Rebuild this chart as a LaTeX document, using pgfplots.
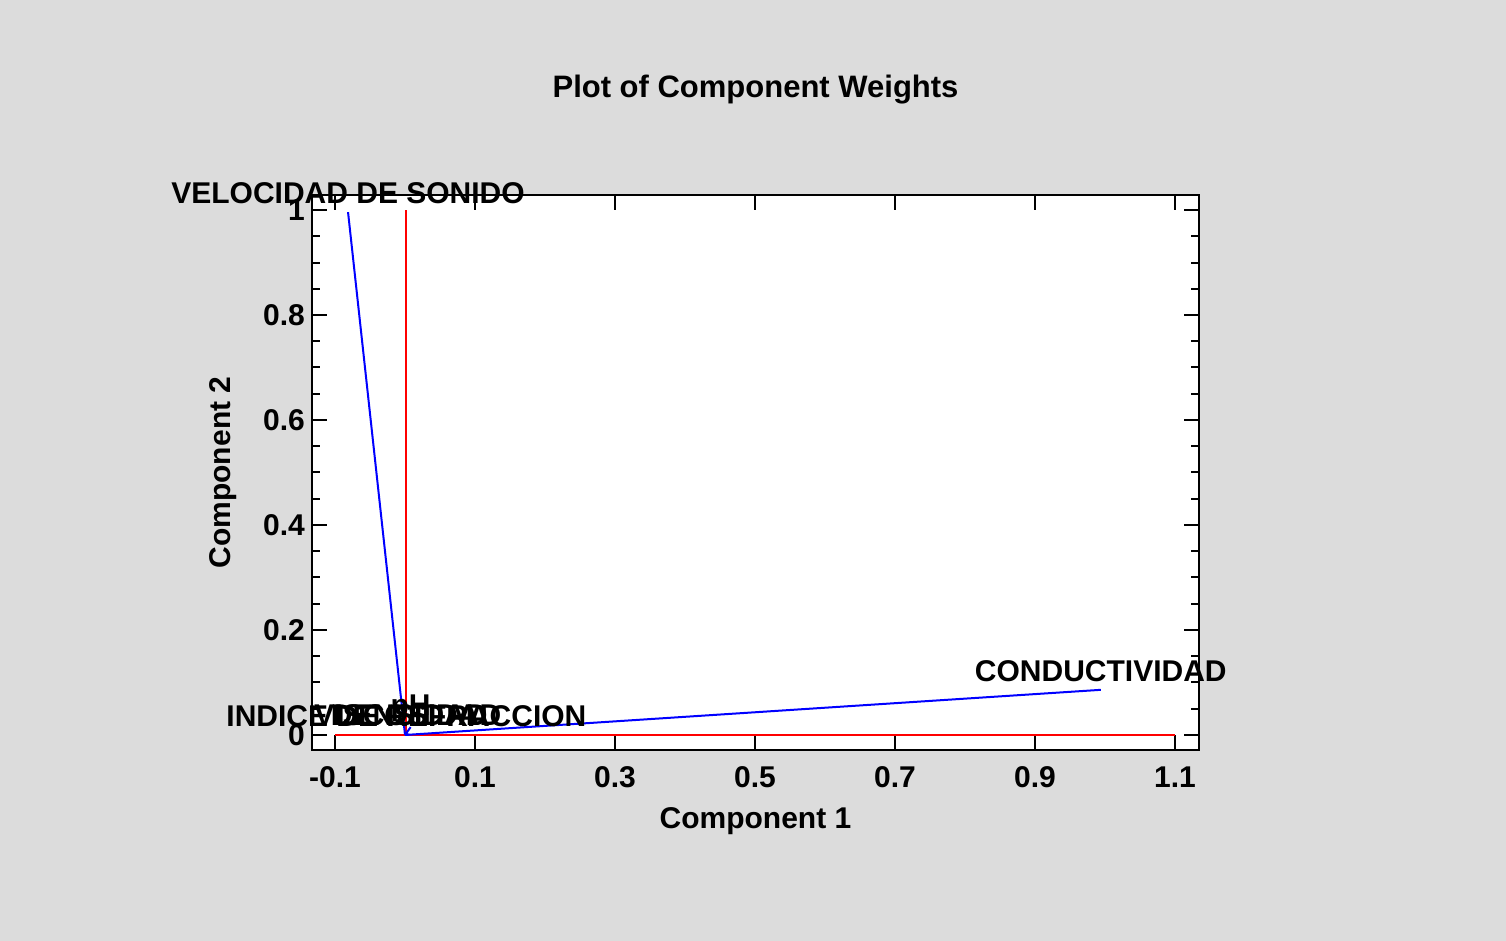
\documentclass[border=0pt]{standalone}
\usepackage{pgfplots}
\pgfplotsset{compat=1.18}
\usepackage{fontspec}
\setmainfont{Liberation Sans}
\definecolor{bg}{RGB}{220,220,220}
\begin{document}
\begin{tikzpicture}[font=\fontsize{15pt}{18pt}\selectfont\bfseries]
\fill[bg] (-156pt,-95.5pt) rectangle (597pt,375pt);
\begin{axis}[
  at={(0,0)}, anchor=south west,
  scale only axis,
  width=443.5pt, height=277.5pt,
  xmin=-0.1329, xmax=1.1343,
  ymin=-0.0286, ymax=1.0286,
  axis background/.style={fill=white},
  axis line style={line width=1.3pt},
  clip=false,
  xtick={-0.1,0.1,0.3,0.5,0.7,0.9,1.1},
  xticklabels={-0.1,0.1,0.3,0.5,0.7,0.9,1.1},
  ytick={0,0.2,0.4,0.6,0.8,1},
  yticklabels={0,0.2,0.4,0.6,0.8,1},
  minor y tick num=3,
  tick align=inside,
  major tick length=7.5pt,
  minor tick length=4pt,
  every tick/.style={black, line width=1pt},
  xticklabel style={anchor=center, yshift=-13.5pt, font=\fontsize{15pt}{18pt}\selectfont\bfseries},
  yticklabel style={font=\fontsize{15pt}{18pt}\selectfont\bfseries},
  xlabel={Component 1},
  ylabel={Component 2},
  xlabel style={at={(axis description cs:0.5,0)}, anchor=center, yshift=-35.5pt, font=\fontsize{15pt}{18pt}\selectfont\bfseries},
  ylabel style={at={(axis description cs:-0.1003,0.5)}, anchor=center, rotate=0, font=\fontsize{15pt}{18pt}\selectfont\bfseries},
  title={Plot of Component Weights},
  title style={at={(axis description cs:0.5,1)}, anchor=center, yshift=46.5pt, font=\fontsize{15.5pt}{18pt}\selectfont\bfseries},
]
% reference axes
\addplot[red, line width=1pt] coordinates {(-0.1,0) (1.1,0)};
\addplot[red, line width=1pt] coordinates {(0.0014,0) (0.0014,1)};
% component weights
\addplot[blue, line width=1pt] coordinates {(0,0) (-0.0814,0.996)}
  node[pos=1, anchor=center, yshift=9.5pt, text=black] {VELOCIDAD DE SONIDO};
\addplot[blue, line width=1pt] coordinates {(0,0) (0.994,0.086)}
  node[pos=1, anchor=center, yshift=9.5pt, text=black] {CONDUCTIVIDAD};
\addplot[blue, line width=1pt] coordinates {(0,0) (0.002,0.0)}
  node[pos=1, anchor=center, yshift=9.5pt, text=black] {INDICE DE REFRACCION};
\addplot[blue, line width=1pt] coordinates {(0,0) (0.004,0.002)}
  node[pos=1, anchor=center, yshift=9.5pt, text=black] {VISCOSIDAD};
\addplot[blue, line width=1pt] coordinates {(0,0) (0.006,0.001)}
  node[pos=1, anchor=center, yshift=9.5pt, text=black] {DENSIDAD};
\addplot[blue, line width=1pt] coordinates {(0,0) (0.008,0.015)}
  node[pos=1, anchor=center, yshift=9.5pt, text=black] {pH};
\end{axis}
\end{tikzpicture}
\end{document}
